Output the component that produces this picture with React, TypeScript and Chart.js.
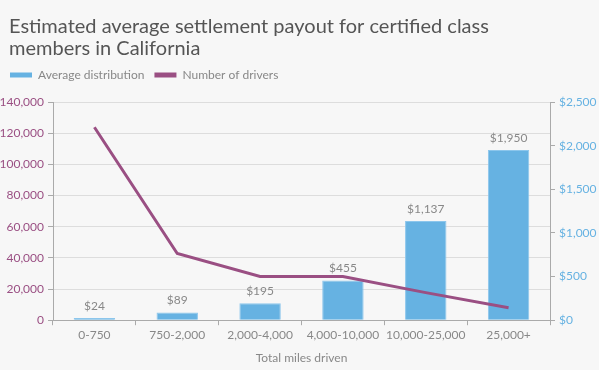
import React, { useEffect, useRef } from "react";
import { Chart, registerables } from "chart.js";

Chart.register(...registerables);

const categories = ["0-750", "750-2,000", "2,000-4,000", "4,000-10,000", "10,000-25,000", "25,000+"];
const averageDistribution = [24, 89, 195, 455, 1137, 1950];
const numberOfDrivers = [123800, 42800, 28000, 28000, 17700, 8000];
const titleLines = ["Estimated average settlement payout for certified class", "members in California"];

const BLUE = "#66b2e2";
const PURPLE = "#9a4f83";
const FONT = "Lato, 'Open Sans', sans-serif";

const bgPlugin = {
  id: "bg",
  beforeInit(chart: any) {
    const legend = chart.legend;
    if (legend) {
      const orig = legend.fit;
      legend.fit = function () {
        orig.call(this);
        this.height += 11;
      };
    }
  },
  beforeDraw(chart: any) {
    const { ctx, width, height } = chart;
    ctx.save();
    ctx.fillStyle = "#f7f7f7";
    ctx.fillRect(0, 0, width, height);
    ctx.fillStyle = "#555555";
    ctx.font = `20px ${FONT}`;
    ctx.textAlign = "left";
    ctx.textBaseline = "middle";
    titleLines.forEach((line, i) => {
      ctx.fillText(line, 9, 27 + i * 22);
    });
    ctx.restore();
  },
};

const labelPlugin = {
  id: "barLabels",
  afterDatasetsDraw(chart: any) {
    const { ctx } = chart;
    const meta = chart.getDatasetMeta(0);
    ctx.save();
    ctx.fillStyle = "#888888";
    ctx.font = `12px ${FONT}`;
    ctx.textAlign = "center";
    ctx.textBaseline = "bottom";
    meta.data.forEach((el: any, i: number) => {
      const v = averageDistribution[i];
      ctx.fillText("$" + v.toLocaleString("en-US"), el.x, el.y - 6);
    });
    ctx.restore();
  },
};

export default function App() {
  const ref = useRef<HTMLCanvasElement>(null);
  useEffect(() => {
    document.body.style.margin = "0";
    const chart = new Chart(ref.current!, {
      type: "bar",
      data: {
        labels: categories,
        datasets: [
          {
            type: "bar",
            label: "Average distribution",
            data: averageDistribution,
            backgroundColor: BLUE,
            borderColor: "#8cc6ec",
            borderWidth: 1,
            yAxisID: "y1",
            barPercentage: 0.5,
            categoryPercentage: 1,
            order: 2,
          },
          {
            type: "line",
            label: "Number of drivers",
            data: numberOfDrivers,
            borderColor: PURPLE,
            backgroundColor: PURPLE,
            borderWidth: 3,
            pointRadius: 0,
            tension: 0,
            yAxisID: "y",
            order: 1,
          },
        ],
      },
      options: {
        animation: false,
        responsive: false,
        layout: { padding: { left: 0, right: 0, top: 59, bottom: 5 } },
        plugins: {
          tooltip: { enabled: false },
          title: { display: false },
          legend: {
            display: true,
            align: "start",
            labels: {
              color: "#888888",
              font: { family: FONT, size: 12 },
              boxWidth: 22,
              boxHeight: 5,
              padding: 10,
              generateLabels: () => [
                { text: "Average distribution", fillStyle: BLUE, strokeStyle: BLUE, lineWidth: 0, datasetIndex: 0, fontColor: "#888888" },
                { text: "Number of drivers", fillStyle: PURPLE, strokeStyle: PURPLE, lineWidth: 0, datasetIndex: 1, fontColor: "#888888" },
              ],
            },
          },
        },
        scales: {
          x: {
            grid: { display: true, drawOnChartArea: false, offset: true, color: "#aaaaaa", tickLength: 5 },
            border: { color: "#aaaaaa" },
            ticks: { color: "#888888", font: { family: FONT, size: 12 }, padding: 3, maxRotation: 0, minRotation: 0, autoSkip: false },
            title: { display: true, text: "Total miles driven", color: "#888888", font: { family: FONT, size: 12 }, padding: { top: 5, bottom: 0 } },
          },
          y: {
            position: "left",
            min: 0,
            max: 140000,
            afterFit: (s: any) => { s.width = 53; },
            ticks: {
              stepSize: 20000,
              color: PURPLE,
              font: { family: FONT, size: 12 },
              padding: 4,
              callback: (v: any) => Number(v).toLocaleString("en-US"),
            },
            grid: { color: "#dddddd", tickLength: 5, tickColor: "#aaaaaa" },
            border: { color: "#aaaaaa" },
          },
          y1: {
            position: "right",
            min: 0,
            max: 2500,
            afterFit: (s: any) => { s.width = 49; },
            ticks: {
              stepSize: 500,
              color: BLUE,
              font: { family: FONT, size: 12 },
              padding: 4,
              callback: (v: any) => "$" + Number(v).toLocaleString("en-US"),
            },
            grid: { drawOnChartArea: false, tickLength: 5, color: "#aaaaaa" },
            border: { color: "#aaaaaa" },
          },
        },
      },
      plugins: [bgPlugin, labelPlugin],
    } as any);
    return () => chart.destroy();
  }, []);
  return <canvas ref={ref} width={599} height={370} style={{ display: "block" }} />;
}
